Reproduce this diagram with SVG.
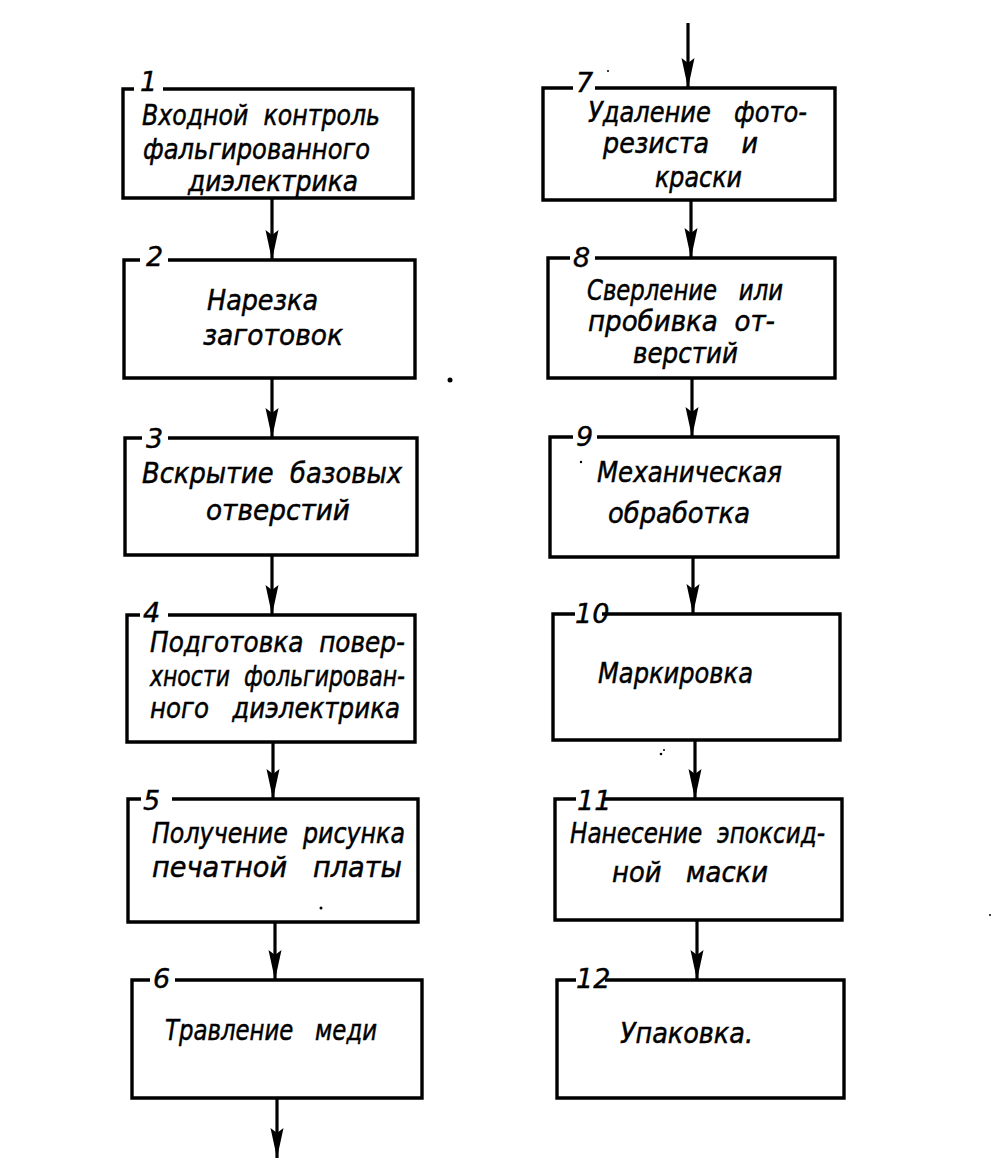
<svg xmlns="http://www.w3.org/2000/svg" width="1003" height="1172" viewBox="0 0 1003 1172">
<style>
.box{fill:none;stroke:#000;stroke-width:3.4;stroke-linejoin:miter}
.t{font-family:"DejaVu Sans","Liberation Sans",sans-serif;font-style:italic;font-size:28px;fill:#000;stroke:#000;stroke-width:0.5;white-space:pre}
.n{font-family:"DejaVu Sans","Liberation Sans",sans-serif;font-style:italic;font-size:27px;fill:#000;stroke:#000;stroke-width:0.4}
.c{fill:none;stroke:#000;stroke-width:3.2;marker-end:url(#ah)}
</style>
<defs>
<marker id="ah" markerUnits="userSpaceOnUse" markerWidth="32" markerHeight="14" refX="30" refY="7" orient="auto">
<path d="M0,0.5 L30,7 L0,13.5 L5,7 Z" fill="#000"/>
</marker>
</defs>
<rect width="1003" height="1172" fill="#fff"/>
<g id="connectors">
<line class="c" x1="272" y1="198" x2="272" y2="260"/>
<line class="c" x1="272" y1="378" x2="272" y2="438"/>
<line class="c" x1="272" y1="555" x2="272" y2="615"/>
<line class="c" x1="273" y1="742" x2="273" y2="799"/>
<line class="c" x1="275" y1="922" x2="275" y2="980"/>
<line class="c" x1="277" y1="1098" x2="277" y2="1158"/>
<line class="c" x1="688" y1="23" x2="688" y2="88"/>
<line class="c" x1="691" y1="200" x2="691" y2="258"/>
<line class="c" x1="692" y1="378" x2="692" y2="437"/>
<line class="c" x1="693" y1="557" x2="693" y2="614"/>
<line class="c" x1="695" y1="740" x2="695" y2="799"/>
<line class="c" x1="697" y1="920" x2="697" y2="980"/>
</g>
<g id="node1">
<path class="box" d="M134,89 H123 V198 H413 V89 H163"/>
<text class="n" x="140" y="91">1</text>
<text class="t" x="142" y="125" textLength="238" lengthAdjust="spacingAndGlyphs">Входной  контроль</text>
<text class="t" x="143" y="159" textLength="227" lengthAdjust="spacingAndGlyphs">фальгированного</text>
<text class="t" x="188" y="191" textLength="170" lengthAdjust="spacingAndGlyphs">диэлектрика</text>
</g>
<g id="node2">
<path class="box" d="M140,260 H124 V378 H415 V260 H168"/>
<text class="n" x="146" y="266">2</text>
<text class="t" x="207" y="310" textLength="111" lengthAdjust="spacingAndGlyphs">Нарезка</text>
<text class="t" x="203" y="345" textLength="140" lengthAdjust="spacingAndGlyphs">заготовок</text>
</g>
<g id="node3">
<path class="box" d="M142,438 H125 V555 H417 V438 H168"/>
<text class="n" x="146" y="448">3</text>
<text class="t" x="142" y="483" textLength="260" lengthAdjust="spacingAndGlyphs">Вскрытие  базовых</text>
<text class="t" x="206" y="520" textLength="144" lengthAdjust="spacingAndGlyphs">отверстий</text>
</g>
<g id="node4">
<path class="box" d="M140,615 H127 V742 H415 V615 H168"/>
<text class="n" x="143" y="622">4</text>
<text class="t" x="150" y="652" textLength="255" lengthAdjust="spacingAndGlyphs">Подготовка  повер-</text>
<text class="t" x="150" y="686" textLength="255" lengthAdjust="spacingAndGlyphs">хности  фольгирован-</text>
<text class="t" x="150" y="718" textLength="250" lengthAdjust="spacingAndGlyphs">ного   диэлектрика</text>
</g>
<g id="node5">
<path class="box" d="M141,799 H128 V922 H418 V799 H172"/>
<text class="n" x="143" y="810">5</text>
<text class="t" x="152" y="843" textLength="253" lengthAdjust="spacingAndGlyphs">Получение  рисунка</text>
<text class="t" x="152" y="877" textLength="250" lengthAdjust="spacingAndGlyphs">печатной   платы</text>
</g>
<g id="node6">
<path class="box" d="M150,980 H132 V1098 H422 V980 H175"/>
<text class="n" x="153" y="988">6</text>
<text class="t" x="165" y="1040" textLength="212" lengthAdjust="spacingAndGlyphs">Травление   меди</text>
</g>
<g id="node7">
<path class="box" d="M573,88 H543 V200 H835 V88 H595"/>
<text class="n" x="576" y="92">7</text>
<text class="t" x="588" y="122" textLength="219" lengthAdjust="spacingAndGlyphs">Удаление   фото-</text>
<text class="t" x="603" y="153" textLength="155" lengthAdjust="spacingAndGlyphs">резиста    и</text>
<text class="t" x="655" y="187" textLength="87" lengthAdjust="spacingAndGlyphs">краски</text>
</g>
<g id="node8">
<path class="box" d="M570,258 H548 V378 H835 V258 H595"/>
<text class="n" x="573" y="267">8</text>
<text class="t" x="587" y="300" textLength="196" lengthAdjust="spacingAndGlyphs">Сверление   или</text>
<text class="t" x="588" y="331" textLength="187" lengthAdjust="spacingAndGlyphs">пробивка  от-</text>
<text class="t" x="633" y="363" textLength="105" lengthAdjust="spacingAndGlyphs">верстий</text>
</g>
<g id="node9">
<path class="box" d="M573,437 H550 V557 H838 V437 H597"/>
<text class="n" x="576" y="446">9</text>
<text class="t" x="597" y="482" textLength="185" lengthAdjust="spacingAndGlyphs">Механическая</text>
<text class="t" x="608" y="523" textLength="142" lengthAdjust="spacingAndGlyphs">обработка</text>
</g>
<g id="node10">
<path class="box" d="M575,614 H553 V740 H840 V614 H602"/>
<text class="n" x="575" y="623">10</text>
<text class="t" x="598" y="683" textLength="155" lengthAdjust="spacingAndGlyphs">Маркировка</text>
</g>
<g id="node11">
<path class="box" d="M576,799 H555 V920 H842 V799 H603"/>
<text class="n" x="577" y="810">11</text>
<text class="t" x="570" y="843" textLength="255" lengthAdjust="spacingAndGlyphs">Нанесение  эпоксид-</text>
<text class="t" x="612" y="882" textLength="156" lengthAdjust="spacingAndGlyphs">ной   маски</text>
</g>
<g id="node12">
<path class="box" d="M576,980 H557 V1098 H844 V980 H605"/>
<text class="n" x="576" y="988">12</text>
<text class="t" x="620" y="1043" textLength="133" lengthAdjust="spacingAndGlyphs">Упаковка.</text>
</g>
<g id="specks" fill="#000">
<circle cx="450" cy="380" r="2.5"/>
<circle cx="661" cy="754" r="1.3"/>
<circle cx="664" cy="750" r="1"/>
<circle cx="321" cy="908" r="1.5"/>
<circle cx="990" cy="915" r="1"/>
<circle cx="581" cy="462" r="1.2"/>
<circle cx="608" cy="71" r="1"/>
</g>
</svg>
